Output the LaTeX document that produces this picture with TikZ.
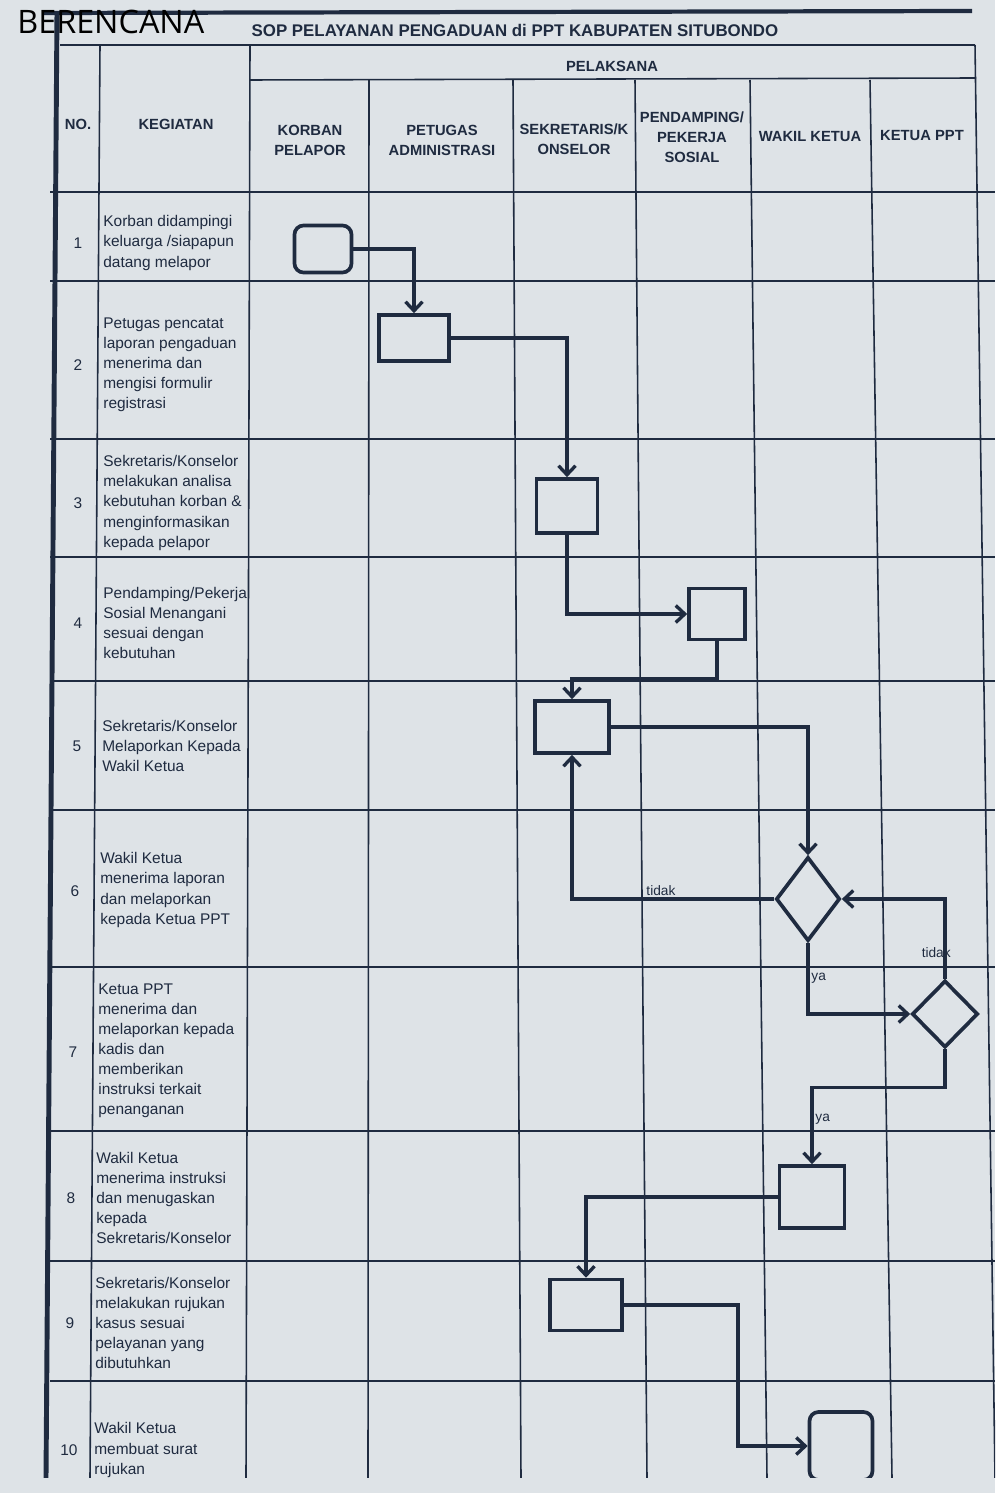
\documentclass[tikz,border=0pt]{standalone}
\usepackage{fontspec}
\setmainfont{Liberation Sans}
\newfontfamily\stampfont{Open Sans}
\usetikzlibrary{positioning,shapes.geometric,arrows.meta}
\definecolor{ink}{HTML}{1F2B40}
\definecolor{paper}{HTML}{DEE3E7}

\tikzset{
  tabel/.style={draw=ink, line width=0.9pt},
  kepala/.style={align=center, text=ink, font=\bfseries\fontsize{8.4}{11.4}\selectfont},
  kegiatan/.style={anchor=west, align=left, inner sep=0pt, text=ink, font=\fontsize{8.8}{11.4}\selectfont},
  nomor/.style={text=ink, font=\fontsize{8.8}{11.4}\selectfont},
  proses/.style={draw=ink, line width=2.1pt, inner sep=0pt},
  mulai/.style={proses, rounded corners=0.18cm},
  putusan/.style={proses, diamond},
  alur/.style={draw=ink, line width=1.9pt, -{Straight Barb[length=1.8mm,width=3.4mm]}},
  ket/.style={text=ink, inner sep=1pt, font=\fontsize{7.8}{9}\selectfont}
}

\begin{document}
\begin{tikzpicture}[x=0.02cm, y=-0.02cm]
  \fill[paper] (0,0) rectangle (995,1493);
  \useasboundingbox (0,0) rectangle (995,1493);
  \clip (0,0) rectangle (995,1477);

  % table frame
  \draw[ink, line width=2.4pt] (44,13) -- (972,11);
  \draw[ink, line width=2.8pt] (57,12) -- (46,1478);
  \draw[tabel] (60,45) -- (975,45);
  \draw[tabel] (249,80) -- (976,78);
  \draw[tabel] (100,45) -- (90,1478);
  \draw[tabel] (250,45) -- (246,1478);
  \draw[tabel] (975,45) -- (995,1478);
  \draw[tabel] (369,80) -- (368,1478);
  \draw[tabel] (513,80) -- (521,1478);
  \draw[tabel] (635,80) -- (647,1478);
  \draw[tabel] (750,80) -- (767,1478);
  \draw[tabel] (870,80) -- (892,1478);
  \foreach \ry in {192,281,439,557,681,810,967,1131,1261,1381}
    \draw[tabel] (50,\ry) -- (995,\ry);

  % header
  \node[font=\bfseries\fontsize{9.6}{11}\selectfont, text=ink] (judul) at (515,30) {SOP PELAYANAN PENGADUAN di PPT KABUPATEN SITUBONDO};
  \node[kepala] (hno) at (78,124) {NO.};
  \node[kepala] (hkeg) at (176,124) {KEGIATAN};
  \node[kepala] (hpel) at (612,66) {PELAKSANA};
  \node[kepala] (hkor) at (310,140) {KORBAN\\PELAPOR};
  \node[kepala] (hpet) at (442,140) {PETUGAS\\ADMINISTRASI};
  \node[kepala] (hsek) at (574,139) {SEKRETARIS/K\\ONSELOR};
  \node[kepala] (hpen) at (692,137) {PENDAMPING/\\PEKERJA\\SOSIAL};
  \node[kepala] (hwak) at (810,136) {WAKIL KETUA};
  \node[kepala] (hket) at (922,135) {KETUA PPT};

  % kegiatan
  \node[nomor] (n1) at (78,243) {1};
  \node[kegiatan] (k1) at (103,243) {Korban didampingi\\keluarga /siapapun\\datang melapor};
  \node[nomor] (n2) at (78,365) {2};
  \node[kegiatan] (k2) at (103,365) {Petugas pencatat\\laporan pengaduan\\menerima dan\\mengisi formulir\\registrasi};
  \node[nomor] (n3) at (78,503) {3};
  \node[kegiatan] (k3) at (103,503) {Sekretaris/Konselor\\melakukan analisa\\kebutuhan korban \&\\menginformasikan\\kepada pelapor};
  \node[nomor] (n4) at (78,623) {4};
  \node[kegiatan] (k4) at (103,623) {Pendamping/Pekerja\\Sosial Menangani\\sesuai dengan\\kebutuhan};
  \node[nomor] (n5) at (77,746) {5};
  \node[kegiatan] (k5) at (102,746) {Sekretaris/Konselor\\Melaporkan Kepada\\Wakil Ketua};
  \node[nomor] (n6) at (75,891) {6};
  \node[kegiatan] (k6) at (100,890) {Wakil Ketua\\menerima laporan\\dan melaporkan\\kepada Ketua PPT};
  \node[nomor] (n7) at (73,1052) {7};
  \node[kegiatan] (k7) at (98,1051) {Ketua PPT\\menerima dan\\melaporkan kepada\\kadis dan\\memberikan\\instruksi terkait\\penanganan};
  \node[nomor] (n8) at (71,1198) {8};
  \node[kegiatan] (k8) at (96,1198) {Wakil Ketua\\menerima instruksi\\dan menugaskan\\kepada\\Sekretaris/Konselor};
  \node[nomor] (n9) at (70,1323) {9};
  \node[kegiatan] (k9) at (95,1323) {Sekretaris/Konselor\\melakukan rujukan\\kasus sesuai\\pelayanan yang\\dibutuhkan};
  \node[nomor] (n10) at (69,1450) {10};
  \node[kegiatan] (k10) at (94,1450) {Wakil Ketua\\membuat surat\\rujukan};

  % alur
  \node[mulai, minimum width=1.14cm, minimum height=0.94cm] (s1) at (323,249) {};
  \node[proses, minimum width=1.4cm, minimum height=0.92cm] (s2) at (414,338) {};
  \node[proses, minimum width=1.22cm, minimum height=1.08cm] (s3) at (567,506) {};
  \node[proses, minimum width=1.12cm, minimum height=1.02cm] (s4) at (717,614) {};
  \node[proses, minimum width=1.48cm, minimum height=1.04cm] (s5) at (572,727) {};
  \node[putusan, minimum width=1.28cm, minimum height=1.68cm] (d6) at (808,899) {};
  \node[putusan, minimum width=1.32cm, minimum height=1.34cm] (d7) at (945,1014) {};
  \node[proses, minimum width=1.3cm, minimum height=1.24cm] (s8) at (812,1197) {};
  \node[proses, minimum width=1.44cm, minimum height=1.02cm] (s9) at (586,1305) {};
  \node[mulai, minimum width=1.26cm, minimum height=1.36cm] (s10) at (841,1446) {};

  \draw[alur] (s1.east) -| (s2.north);
  \draw[alur] (s2.east) -| (s3.north);
  \draw[alur] (s3.south) |- (s4.west);
  \draw[alur] (s4.south) -- ++(0,37) -| (s5.north);
  \draw[alur] (s5.east) -| (d6.north);
  \draw[alur] (d6.west) -| (s5.south) node[ket, pos=0.28, above] {tidak};
  \draw[alur] (d6.south) |- (d7.west) node[ket, pos=0.25, right] {ya};
  \draw[alur] (d7.north) |- (d6.east) node[ket, pos=0.165, xshift=-5] {tidak};
  \draw[alur] (d7.south) -- ++(0,38) -| (s8.north) node[ket, pos=0.71, right] {ya};
  \draw[alur] (s8.west) -| (s9.north);
  \draw[alur] (s9.east) -- ++(114,0) |- (s10.west);

  \node[anchor=west, inner sep=0pt, text=black, font=\stampfont\fontsize{18.4}{18}\selectfont] (cap) at (17,22) {BERENCANA};
\end{tikzpicture}
\end{document}
